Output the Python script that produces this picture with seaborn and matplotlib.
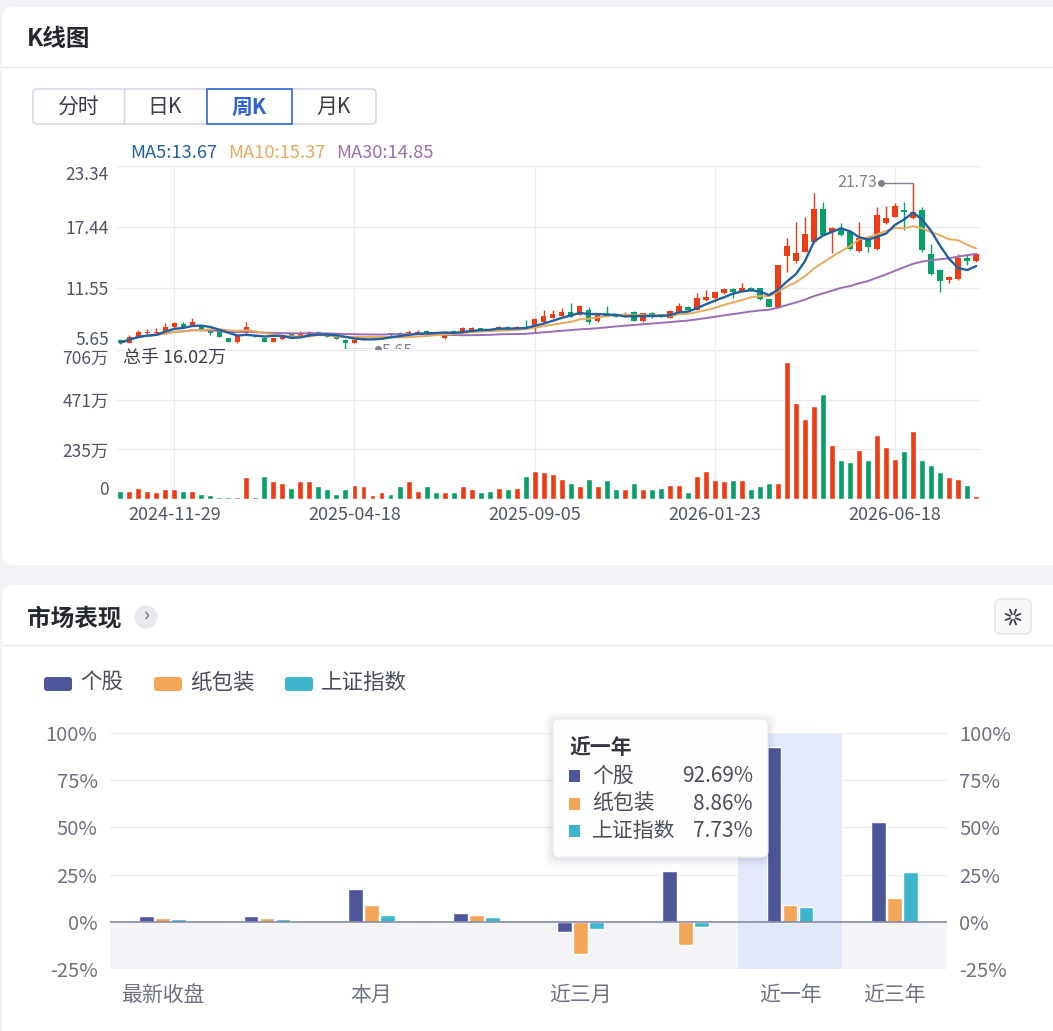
import numpy as np
import pandas as pd
import matplotlib
matplotlib.use("Agg")
import matplotlib.pyplot as plt
from matplotlib.patches import FancyBboxPatch, Rectangle, Circle
import seaborn as sns

# ---------------- data ----------------
opens = [6.52, 6.26, 6.84, 7.17, 7.17, 7.33, 7.75, 8.07, 7.97, 7.87,
         7.49, 7.33, 6.68, 6.36, 7.17, 7.00, 6.68, 6.36, 6.60, 7.07,
         6.84, 6.90, 7.33, 7.07, 6.84, 6.52, 6.26, 6.52, 6.72, 6.80,
         7.16, 7.23, 7.16, 7.16, 7.42, 7.23, 6.68, 7.42, 7.23, 7.33,
         7.65, 7.55, 7.55, 7.81, 7.55, 7.81, 7.90, 8.25, 8.68, 8.84,
         9.26, 8.94, 9.42, 8.36, 9.10, 9.00, 8.84, 9.26, 8.36, 9.16,
         9.00, 8.68, 9.26, 9.74, 9.42, 10.39, 10.55, 11.03, 11.45, 11.29,
         11.58, 11.52, 10.45, 9.74, 14.64, 14.19, 15.06, 16.03, 19.18, 16.99,
         17.22, 16.99, 15.12, 16.50, 15.32, 17.80, 18.44, 19.09, 18.28, 19.09,
         14.84, 13.29, 12.32, 12.42, 14.48, 14.19]
closes = [6.26, 6.84, 7.33, 7.33, 7.33, 7.81, 8.20, 7.75, 8.29, 7.49,
          7.17, 6.84, 6.36, 6.90, 7.81, 6.84, 6.36, 6.68, 6.84, 6.90,
          7.07, 7.33, 7.07, 6.84, 6.62, 6.26, 6.52, 6.68, 6.80, 6.90,
          6.97, 7.07, 7.33, 7.33, 7.16, 7.07, 7.33, 7.16, 7.71, 7.71,
          7.49, 7.42, 7.81, 7.65, 7.81, 7.65, 8.55, 8.87, 9.00, 9.23,
          8.78, 9.84, 8.23, 9.10, 8.87, 8.78, 9.00, 8.39, 9.10, 8.94,
          8.78, 9.36, 9.81, 9.42, 10.55, 10.71, 11.13, 11.42, 11.20, 11.58,
          11.35, 10.45, 9.74, 13.75, 15.60, 14.90, 16.77, 19.18, 16.67, 17.32,
          16.67, 15.28, 16.35, 15.50, 18.60, 18.35, 19.50, 18.90, 18.85, 15.20,
          12.87, 12.25, 12.60, 14.48, 14.19, 14.84]
highs = [6.60, 7.00, 7.45, 7.55, 7.65, 8.13, 8.25, 8.30, 8.60, 7.95,
         7.55, 7.40, 6.75, 6.95, 8.29, 7.05, 6.72, 6.72, 6.90, 7.10,
         7.39, 7.40, 7.40, 7.10, 6.90, 6.60, 6.58, 6.72, 6.85, 6.95,
         7.20, 7.33, 7.49, 7.49, 7.46, 7.28, 7.38, 7.46, 7.76, 7.76,
         7.70, 7.60, 7.86, 7.86, 7.86, 8.45, 8.60, 9.40, 9.40, 9.65,
         10.06, 9.90, 9.74, 9.15, 9.84, 9.05, 9.20, 9.30, 9.15, 9.20,
         9.05, 9.40, 10.13, 9.80, 11.10, 11.35, 11.18, 11.50, 11.50, 12.06,
         11.62, 11.56, 10.50, 13.80, 16.41, 17.90, 18.44, 20.73, 19.83, 17.48,
         17.87, 17.05, 17.90, 16.55, 19.40, 19.50, 19.73, 19.83, 21.73, 19.40,
         15.80, 13.35, 12.70, 14.80, 14.80, 14.90]
lows = [6.15, 6.20, 6.80, 7.10, 7.10, 7.30, 7.70, 7.70, 7.90, 7.40,
        7.00, 6.80, 6.30, 6.27, 7.10, 6.80, 6.30, 6.30, 6.55, 6.85,
        6.80, 6.85, 7.00, 6.80, 6.58, 5.65, 6.20, 6.48, 6.68, 6.75,
        6.92, 7.00, 7.12, 7.12, 7.10, 7.02, 6.62, 7.10, 7.18, 7.28,
        7.44, 7.38, 7.50, 7.60, 7.50, 7.60, 7.33, 8.20, 8.62, 8.80,
        8.72, 8.90, 8.10, 8.30, 8.82, 8.72, 8.80, 8.33, 8.30, 8.68,
        8.72, 8.62, 9.20, 9.38, 9.38, 10.33, 10.23, 10.98, 10.60, 11.24,
        11.30, 10.40, 9.68, 9.60, 13.13, 14.00, 15.00, 15.90, 16.60, 14.90,
        16.60, 15.20, 15.05, 15.00, 15.25, 17.70, 18.40, 17.16, 18.25, 15.00,
        12.80, 11.20, 12.00, 12.36, 13.77, 14.10]
volumes = [40, 40, 54, 40, 33, 48, 48, 40, 40, 25,
           19, 11, 11, 11, 105, 11, 111, 83, 76, 54,
           83, 83, 62, 48, 25, 48, 68, 62, 19, 33,
           25, 62, 83, 40, 62, 33, 33, 33, 62, 48,
           33, 40, 54, 48, 54, 111, 134, 126, 119, 97,
           76, 62, 97, 62, 91, 48, 48, 76, 48, 48,
           54, 68, 68, 33, 111, 134, 91, 83, 91, 91,
           48, 62, 76, 76, 649, 455, 377, 440, 498, 254,
           183, 176, 234, 183, 305, 248, 191, 226, 320, 183,
           162, 126, 105, 97, 68, 16.02]  # 万手

first_week = "2024-10-18"
closed_weeks = ["2026-02-20"]
holiday_shift = {"2026-06-19": "2026-06-18"}
ma_windows = [5, 10, 30]
tick_dates = ["2024-11-29", "2025-04-18", "2025-09-05", "2026-01-23", "2026-06-18"]
price_ticks = [5.65, 11.55, 17.44, 23.34]
vol_ticks = [0, 235, 471, 706]

periods = ["最新收盘", "本周", "本月", "近一月", "近三月", "近六月", "近一年", "近三年"]
period_tick_labels = ["最新收盘", "", "本月", "", "近三月", "", "近一年", "近三年"]
series_names = ["个股", "纸包装", "上证指数"]
stock_ret = [3.0, 3.0, 17.4, 4.6, -5.3, 26.7, 92.69, 52.6]
sector_ret = [2.1, 1.9, 9.1, 3.7, -17.2, -12.1, 8.86, 12.7]
index_ret = [1.4, 1.3, 3.7, 2.5, -3.7, -2.5, 7.73, 26.4]
tooltip_period = "近一年"
pct_ticks = [-25, 0, 25, 50, 75, 100]

# ---------------- style ----------------
sns.set_theme(style="white")
FONT = ["Noto Sans CJK SC", "DejaVu Sans"]
plt.rcParams["font.family"] = FONT
plt.rcParams["axes.unicode_minus"] = False

RED = "#ef3b14"
GREEN = "#06a068"
MA_COLORS = {5: "#22609e", 10: "#e9a95a", 30: "#9a6db5"}
SER_COLORS = ["#4c5698", "#f3a658", "#3db6cd"]
GRID = "#ebebf3"
AX_TXT = "#50556a"
LIGHT_TXT = "#6f7282"

W, H = 1053, 1031
fig = plt.figure(figsize=(W / 100, H / 100), dpi=100)
fig.patch.set_facecolor("#f2f2f7")


def rect(l, t, r, b):
    return [l / W, 1 - b / H, (r - l) / W, (b - t) / H]


# background cards
bg = fig.add_axes([0, 0, 1, 1], zorder=-5)
bg.set_xlim(0, W)
bg.set_ylim(H, 0)
bg.axis("off")
bg.add_patch(FancyBboxPatch((2, 7), 1070, 558, boxstyle="round,pad=0,rounding_size=12",
                            fc="white", ec="none"))
bg.add_patch(FancyBboxPatch((2, 585), 1070, 460, boxstyle="round,pad=0,rounding_size=12",
                            fc="white", ec="none"))
bg.plot([2, W], [67, 67], color="#e9e9ef", lw=1)
bg.plot([2, W], [645, 645], color="#e9e9ef", lw=1)

# ---------------- K-line data prep ----------------
idx = np.arange(len(closes))
weeks = [d.strftime("%Y-%m-%d") for d in pd.date_range(first_week, periods=len(closes) + 5, freq="W-FRI")]
weeks = [holiday_shift.get(d, d) for d in weeks if d not in closed_weeks][:len(closes)]
direction = ["up" if c >= o else "down" for o, c in zip(opens, closes)]
cols = [RED if d == "up" else GREEN for d in direction]
close_s = pd.Series(closes)
mas = {w: close_s.rolling(w, min_periods=1).mean() for w in ma_windows}
tick_idx = [weeks.index(d) for d in tick_dates]

# price panel
ax_p = fig.add_axes(rect(115.7, 166, 980.7, 349))
ax_p.set_facecolor("none")
o = np.array(opens); c = np.array(closes)
body_lo = np.minimum(o, c)
body_h = np.maximum(np.abs(c - o), 0.06)
ax_p.vlines(idx, lows, highs, colors=cols, lw=1.0, zorder=3)
ax_p.bar(idx, body_h, bottom=body_lo, width=0.6, color=cols, lw=0, zorder=4)
for w, lw in [(30, 1.4), (10, 1.4), (5, 1.7)]:
    sns.lineplot(x=idx, y=mas[w].values, ax=ax_p, color=MA_COLORS[w], lw=lw, zorder=5, legend=False)
ax_p.set_xlim(-0.5, len(idx) - 0.5)
ax_p.set_ylim(price_ticks[0], price_ticks[-1])
ax_p.set_yticks(price_ticks)
ax_p.set_yticklabels([f"{v:.2f}" for v in price_ticks])
plabs = ax_p.get_yticklabels()
plabs[0].set_va("bottom")
plabs[-1].set_va("top")
ax_p.set_xticks(tick_idx)
ax_p.tick_params(axis="x", labelbottom=False, length=0)
ax_p.tick_params(axis="y", length=0, pad=5, labelsize=12.5, labelcolor=AX_TXT)
ax_p.grid(True, color=GRID, lw=1)
ax_p.set_axisbelow(True)
for s in ax_p.spines.values():
    s.set_visible(False)
ax_p.set_xlabel("")
ax_p.set_ylabel("")

MARK = "#7d8293"
imax = int(np.argmax(highs)); hmax = highs[imax]
ax_p.plot([imax - 3.6, imax], [hmax, hmax], color=MARK, lw=1, zorder=6)
ax_p.plot([imax - 3.6], [hmax], "o", ms=4, color=MARK, zorder=6)
ax_p.text(imax - 4.0, hmax, f"{hmax:.2f}", ha="right", va="center", fontsize=11.5, color=MARK)
imin = int(np.argmin(lows)); lmin = lows[imin]
ax_p.plot([imin, imin + 3.6], [lmin, lmin], color=MARK, lw=1, zorder=6)
ax_p.plot([imin + 3.6], [lmin], "o", ms=4, color=MARK, zorder=6)
ax_p.text(imin + 4.0, lmin - 0.2, f"{lmin:.2f}", ha="left", va="center", fontsize=11.5, color=MARK,
          clip_on=True)

# volume panel
ax_v = fig.add_axes(rect(115.7, 350, 980.7, 499))
ax_v.set_facecolor("none")
sns.barplot(x=idx, y=volumes, hue=direction, palette={"up": RED, "down": GREEN}, dodge=False,
            width=0.66, saturation=1, legend=False, errorbar=None, ax=ax_v, zorder=3)
ax_v.set_xlim(-0.5, len(idx) - 0.5)
ax_v.set_ylim(0, vol_ticks[-1])
ax_v.set_xticks(tick_idx)
ax_v.set_xticklabels(tick_dates)
ax_v.set_yticks(vol_ticks)
ax_v.set_yticklabels(["0" if v == 0 else f"{v}万" for v in vol_ticks])
ylabs = ax_v.get_yticklabels()
ylabs[0].set_va("bottom")
ylabs[-1].set_va("top")
ax_v.tick_params(axis="y", length=0, pad=5, labelsize=12.5, labelcolor=AX_TXT)
ax_v.tick_params(axis="x", length=0, pad=5, labelsize=13, labelcolor=AX_TXT)
ax_v.grid(True, color=GRID, lw=1)
ax_v.set_axisbelow(True)
for s in ax_v.spines.values():
    s.set_visible(False)
ax_v.set_xlabel("")
ax_v.set_ylabel("")

# ---------------- market performance ----------------
df = pd.DataFrame({
    "period": periods * 3,
    "series": sum([[s] * len(periods) for s in series_names], []),
    "value": stock_ret + sector_ret + index_ret,
})
ax_b = fig.add_axes(rect(110, 733, 947, 969))
ax_b.set_facecolor("none")
sns.barplot(data=df, x="period", y="value", hue="series", order=periods, hue_order=series_names,
            palette=dict(zip(series_names, SER_COLORS)), width=0.46, gap=0.08, saturation=1,
            errorbar=None, legend=False, ax=ax_b, zorder=3)
ti = periods.index(tooltip_period)
ax_b.axhspan(pct_ticks[0], 0, color="#f4f4f8", lw=0, zorder=0)
ax_b.axvspan(ti - 0.5, ti + 0.5, color="#dbe4fa", alpha=0.75, lw=0, zorder=0.5)
ax_b.axhline(0, color="#868aa8", lw=1.2, zorder=4)
ax_b.set_xlim(-0.5, len(periods) - 0.5)
ax_b.set_ylim(pct_ticks[0], pct_ticks[-1])
ax_b.set_yticks(pct_ticks)
ax_b.set_yticklabels([f"{v}%" for v in pct_ticks])
ax_b.tick_params(axis="y", length=0, pad=9, labelsize=14.5, labelcolor=LIGHT_TXT,
                 labelright=True, labelleft=True)
ax_b.set_xticks(range(len(periods)))
ax_b.set_xticklabels(period_tick_labels)
ax_b.tick_params(axis="x", length=0, pad=11, labelsize=15, labelcolor=LIGHT_TXT)
ax_b.grid(axis="y", color="#ececf4", lw=1)
ax_b.grid(axis="x", visible=False)
ax_b.set_axisbelow(True)
for s in ax_b.spines.values():
    s.set_visible(False)
ax_b.set_xlabel("")
ax_b.set_ylabel("")

# ---------------- foreground decorations ----------------
fg = fig.add_axes([0, 0, 1, 1], zorder=20)
fg.set_xlim(0, W)
fg.set_ylim(H, 0)
fg.axis("off")
fg.patch.set_alpha(0)

DARK = "#26282f"
fg.text(27, 39, "K线图", fontsize=17, fontweight="bold", color=DARK, va="center", ha="left")
fg.text(27, 618, "市场表现", fontsize=17, fontweight="bold", color=DARK, va="center", ha="left")

# tabs
TAB_EC = "#cfd1e3"
fg.add_patch(FancyBboxPatch((33, 89), 343, 35, boxstyle="round,pad=0,rounding_size=4",
                            fc="white", ec=TAB_EC, lw=1))
fg.plot([123.5, 123.5], [89, 124], color=TAB_EC, lw=1)
fg.add_patch(Rectangle((207, 89), 85, 35, fc="white", ec="#2e66d8", lw=1.2))
for label, x, sel in [("分时", 78, False), ("日K", 165, False), ("周K", 249, True), ("月K", 334, False)]:
    fg.text(x, 107, label, fontsize=15, ha="center", va="center",
            color="#2b63d6" if sel else "#3a3d4a", fontweight="bold" if sel else "normal")

# MA legend
for w, x in zip(ma_windows, [130, 228, 336]):
    fg.text(x, 153, f"MA{w}:{mas[w].iloc[-1]:.2f}", fontsize=13.2, color=MA_COLORS[w],
            ha="left", va="center")
fg.text(123, 358, f"总手 {volumes[-1]:.2f}万", fontsize=13, color="#3a3d4a", ha="left", va="center")

# title icons
fg.add_patch(Circle((146, 617), 11.5, fc="#e8e8ee", ec="none"))
fg.text(146.5, 616, "›", fontsize=14, color="#6a6d7c", ha="center", va="center")
fg.add_patch(FancyBboxPatch((995, 599), 36, 35, boxstyle="round,pad=0,rounding_size=6",
                            fc="#f8f8fb", ec="#e3e3ea", lw=1))
for k in range(8):
    a = np.pi / 4 * k + np.pi / 8
    fg.plot([1013 + 3 * np.cos(a), 1013 + 8 * np.cos(a)], [617 + 3 * np.sin(a), 617 + 8 * np.sin(a)],
            color="#3a3d4a", lw=1.3)

# legend of bottom chart
for name, colr, x in zip(series_names, SER_COLORS, [44, 154, 285]):
    fg.add_patch(FancyBboxPatch((x, 677), 28, 14, boxstyle="round,pad=0,rounding_size=3", fc=colr, ec="none"))
    fg.text(x + 36, 683, name, fontsize=15.5, color="#4a4d5c", ha="left", va="center")

# tooltip
for k, a in [(8, 0.025), (5, 0.035), (2, 0.05)]:
    fg.add_patch(FancyBboxPatch((553 - k, 719 - k + 2), 215 + 2 * k, 138 + 2 * k,
                                boxstyle="round,pad=0,rounding_size=9", fc="#202050", ec="none", alpha=a))
fg.add_patch(FancyBboxPatch((553, 719), 215, 138, boxstyle="round,pad=0,rounding_size=6",
                            fc="white", ec="#ececf2", lw=0.8, alpha=0.97))
fg.text(570, 748, tooltip_period, fontsize=15, fontweight="bold", color="#33353f", ha="left", va="center")
tip_vals = [stock_ret[ti], sector_ret[ti], index_ret[ti]]
for r, (name, colr, v) in enumerate(zip(series_names, SER_COLORS, tip_vals)):
    yy = 776 + r * 27.5
    fg.add_patch(Rectangle((569, yy - 6), 11, 12, fc=colr, ec="none"))
    fg.text(592, yy, name, fontsize=15, color="#4a4d5c", ha="left", va="center")
    fg.text(753, yy, f"{v:.2f}%", fontsize=15, color="#4a4d5c", ha="right", va="center")

fig.savefig("out.png", dpi=100, facecolor=fig.get_facecolor())
